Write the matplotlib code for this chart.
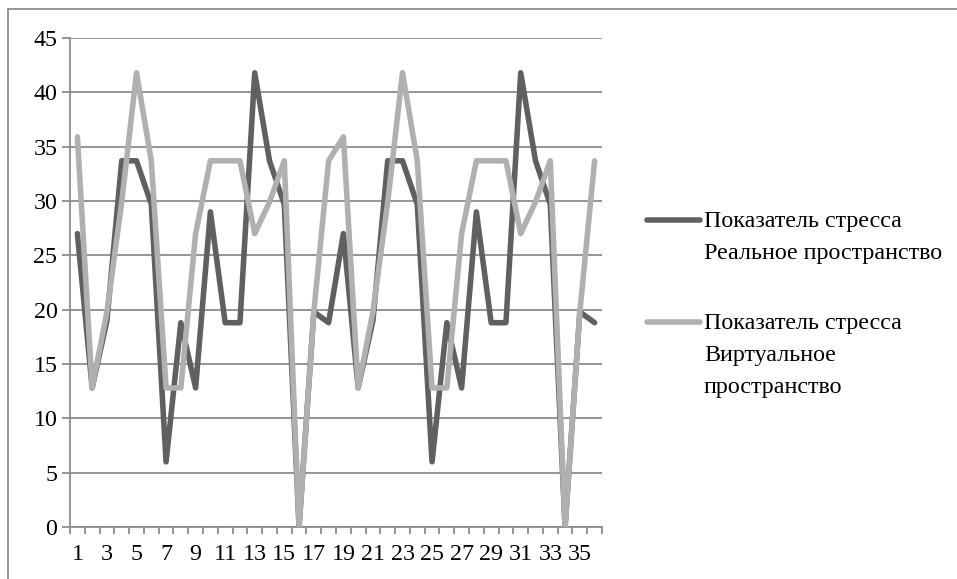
import matplotlib
matplotlib.use("Agg")
import matplotlib.pyplot as plt
from matplotlib.lines import Line2D
from matplotlib.patches import Rectangle

# данные: показатель стресса по 36 респондентам
respondents = list(range(1, 37))
real_space = [27, 12.8, 19, 33.7, 33.7, 29.7, 6, 18.8, 12.8, 29, 18.8, 18.8,
              41.8, 33.7, 29.7, 0, 19.8, 18.8,
              27, 12.8, 19, 33.7, 33.7, 29.7, 6, 18.8, 12.8, 29, 18.8, 18.8,
              41.8, 33.7, 29.7, 0, 19.8, 18.8]
virtual_space = [35.9, 12.8, 19.8, 29.9, 41.8, 33.7, 12.8, 12.8, 27, 33.7, 33.7, 33.7,
                 27, 29.9, 33.7, 0, 19.8, 33.7,
                 35.9, 12.8, 19.8, 29.9, 41.8, 33.7, 12.8, 12.8, 27, 33.7, 33.7, 33.7,
                 27, 29.9, 33.7, 0, 19.8, 33.7]
series_names = ["Показатель стресса\nРеальное пространство",
                "Показатель стресса\nВиртуальное\nпространство"]
y_ticks = [0, 5, 10, 15, 20, 25, 30, 35, 40, 45]

plt.rcParams['font.family'] = ['Liberation Serif', 'DejaVu Serif']
W, H = 957, 579
fig = plt.figure(figsize=(W / 100, H / 100), dpi=100)
ax = fig.add_axes([70 / W, 1 - 527 / H, (602 - 70) / W, (527 - 38) / H])

grid_c = '#8c8c8c'
dark_c = '#606060'
light_c = '#b0b0b0'
fs = 17.3

ax.plot(respondents, real_space, color=dark_c, lw=4, solid_joinstyle='round',
        solid_capstyle='round', zorder=3)
ax.plot(respondents, virtual_space, color=light_c, lw=4, solid_joinstyle='round',
        solid_capstyle='round', zorder=4)

ax.set_xlim(0.5, 36.5)
ax.set_ylim(0, 45)
ax.set_yticks(y_ticks)
ax.set_xticks(respondents[::2])
ax.set_xticks([i + 0.5 for i in range(0, 37)], minor=True)
ax.grid(axis='y', color=grid_c, lw=1.3, zorder=1)
for s in ['top', 'right']:
    ax.spines[s].set_visible(False)
for s in ['left', 'bottom']:
    ax.spines[s].set_color(grid_c)
    ax.spines[s].set_linewidth(1.3)
ax.tick_params(axis='y', length=6, width=1.3, color=grid_c, labelsize=fs, pad=3)
ax.tick_params(axis='x', which='major', length=0, labelsize=fs, pad=12)
ax.tick_params(axis='x', which='minor', length=5, width=1.3, color=grid_c)

# легенда справа
for name, col, y in [(series_names[0], dark_c, 220), (series_names[1], light_c, 322)]:
    fig.add_artist(Line2D([647 / W, 700 / W], [1 - y / H, 1 - y / H], color=col, lw=4,
                          solid_capstyle='round'))
    fig.text(704 / W, 1 - (y - 9) / H, name, fontsize=fs, va='top', ha='left',
             linespacing=1.68)

# рамка области диаграммы
fig.add_artist(Rectangle((8 / W, -0.2), 1.0, 1.2 - 9 / H, transform=fig.transFigure,
                         fill=False, edgecolor=grid_c, lw=1.3))

fig.savefig("out.png", dpi=100)
